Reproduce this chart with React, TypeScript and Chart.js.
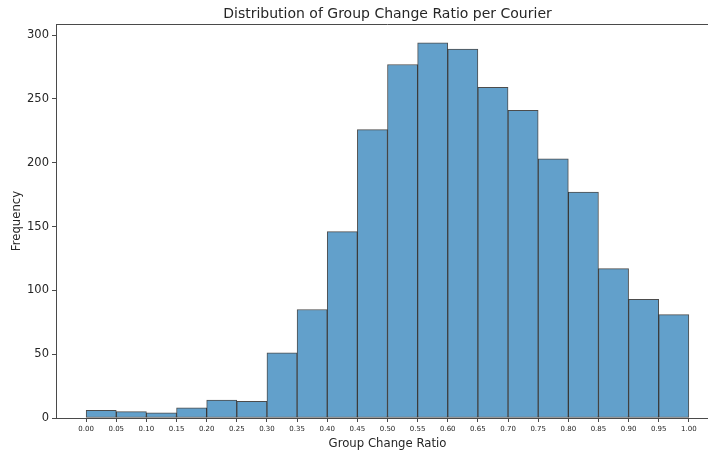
import React, { useEffect, useRef } from "react";
import { Chart, registerables } from "chart.js";

Chart.register(...registerables);

// Histogram bins (edges) and counts per bin
const binEdges = [
  0.0, 0.05, 0.1, 0.15, 0.2, 0.25, 0.3, 0.35, 0.4, 0.45, 0.5,
  0.55, 0.6, 0.65, 0.7, 0.75, 0.8, 0.85, 0.9, 0.95, 1.0,
];
const frequencies = [
  6, 5, 4, 8, 14, 13, 51, 85, 146, 226,
  277, 294, 289, 259, 241, 203, 177, 117, 93, 81,
];
const yTickValues = [0, 50, 100, 150, 200, 250, 300];

const titleText = "Distribution of Group Change Ratio per Courier";
const xLabel = "Group Change Ratio";
const yLabel = "Frequency";

const FONT = "'DejaVu Sans', sans-serif";
const SPINE = "#4a4a4a";
const TEXT = "#262626";

// Draws the top spine and the centred title above the plot area
const frameAndTitle = {
  id: "frameAndTitle",
  afterDraw(chart: any) {
    const { ctx, chartArea } = chart;
    ctx.save();
    ctx.strokeStyle = SPINE;
    ctx.lineWidth = 1;
    ctx.beginPath();
    ctx.moveTo(chartArea.left, chartArea.top + 0.5);
    ctx.lineTo(chartArea.right, chartArea.top + 0.5);
    ctx.stroke();

    ctx.fillStyle = TEXT;
    ctx.font = `14px ${FONT}`;
    ctx.textAlign = "center";
    ctx.textBaseline = "alphabetic";
    ctx.fillText(titleText, (chartArea.left + chartArea.right) / 2, 17.5);
    ctx.restore();
  },
};

export default function App() {
  const canvasRef = useRef<HTMLCanvasElement | null>(null);

  useEffect(() => {
    document.body.style.margin = "0";
    const canvas = canvasRef.current;
    if (!canvas) return;

    const points = frequencies.map((f, i) => ({
      x: (binEdges[i] + binEdges[i + 1]) / 2,
      y: f,
    }));

    const chart = new Chart(canvas, {
      type: "bar",
      data: {
        datasets: [
          {
            data: points as any,
            backgroundColor: "rgb(98, 160, 203)",
            borderColor: "rgba(0, 0, 0, 0.7)",
            borderWidth: 1,
            borderSkipped: false,
            barPercentage: 1,
            categoryPercentage: 1,
          },
        ],
      },
      options: {
        responsive: false,
        animation: false,
        devicePixelRatio: 1,
        layout: { padding: { top: 24, right: 1, left: 0, bottom: 0 } },
        plugins: {
          legend: { display: false },
          tooltip: { enabled: false },
          title: { display: false },
        },
        scales: {
          x: {
            type: "linear",
            min: -0.05,
            max: 1.05,
            offset: false,
            afterBuildTicks: (scale: any) => {
              scale.ticks = binEdges.map((v) => ({ value: v }));
            },
            afterFit: (scale: any) => {
              scale.height = 39;
            },
            grid: {
              offset: false,
              drawOnChartArea: false,
              drawTicks: true,
              tickLength: 4,
              tickColor: SPINE,
            },
            border: { display: true, color: SPINE, width: 1 },
            ticks: {
              autoSkip: false,
              maxRotation: 0,
              minRotation: 0,
              padding: 3,
              color: TEXT,
              font: { family: FONT, size: 7 },
              callback: (v: any) => Number(v).toFixed(2),
            },
            title: {
              display: true,
              text: xLabel,
              color: TEXT,
              font: { family: FONT, size: 11.7 },
              padding: { top: 0, bottom: 6 },
            },
          },
          y: {
            min: 0,
            max: 308.7,
            afterBuildTicks: (scale: any) => {
              scale.ticks = yTickValues.map((v) => ({ value: v }));
            },
            afterFit: (scale: any) => {
              scale.width = 56;
            },
            grid: {
              drawOnChartArea: false,
              drawTicks: true,
              tickLength: 4,
              tickColor: SPINE,
            },
            border: { display: true, color: SPINE, width: 1 },
            ticks: {
              padding: 3,
              color: TEXT,
              font: { family: FONT, size: 11.5 },
            },
            title: {
              display: true,
              text: yLabel,
              color: TEXT,
              font: { family: FONT, size: 11.7 },
              padding: { top: 9.5, bottom: 0 },
            },
          },
        },
      },
      plugins: [frameAndTitle],
    });

    return () => chart.destroy();
  }, []);

  return (
    <div style={{ width: 708, height: 457, overflow: "hidden", background: "#fff" }}>
      <canvas ref={canvasRef} width={720} height={457} style={{ display: "block" }} />
    </div>
  );
}
